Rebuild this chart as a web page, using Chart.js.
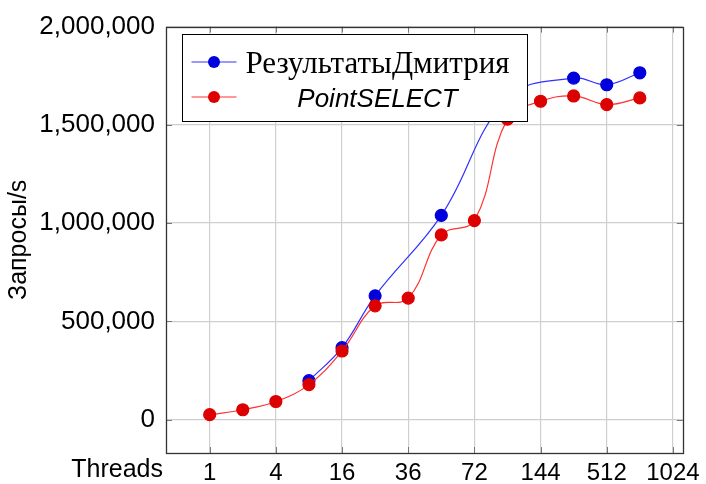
<!DOCTYPE html>
<html>
<head>
<meta charset="utf-8">
<script src="https://cdn.jsdelivr.net/npm/chart.js@4/dist/chart.umd.min.js"></script>
<style>
  html, body { margin: 0; padding: 0; background: #fff; }
  #wrap { width: 706px; height: 484px; }
</style>
</head>
<body>
<div id="wrap"><canvas id="tpsChart" width="706" height="484"></canvas></div>
<script>
// thread counts shown on the x axis, one per unit step
var threadLabels = ['1', '4', '16', '36', '72', '144', '512', '1024'];
var yTickValues = [0, 500000, 1000000, 1500000, 2000000];

// x is measured in label steps (0 = "1", 1 = "4", ...), runs sit on half steps
var dmitryPos = [1.5, 2, 2.5, 3.5, 4.5, 5.5, 6, 6.5];
var dmitryVals = [198000, 366000, 630000, 1039000, 1634000, 1738000, 1704000, 1765000];

var pointSelectPos = [0, 0.5, 1, 1.5, 2, 2.5, 3, 3.5, 4, 4.5, 5, 5.5, 6, 6.5];
var pointSelectVals = [25000, 50000, 92000, 178000, 349000, 579000, 618000, 940000, 1013000, 1529000, 1620000, 1647000, 1603000, 1637000];

function toPoints(xs, ys) {
    var out = [];
    for (var i = 0; i < xs.length; i++) out.push({ x: xs[i], y: ys[i] });
    return out;
}

Chart.defaults.font.family = '"Liberation Sans", Arial, sans-serif';
Chart.defaults.color = '#000';

// box around the plot + little inner tick marks like pgfplots
var framePlugin = {
    id: 'frame',
    afterDatasetsDraw: function (chart) {
        var ctx = chart.ctx;
        var a = chart.chartArea;
        var xs = chart.scales.x, ys = chart.scales.y;
        ctx.save();
        ctx.strokeStyle = '#777';
        ctx.lineWidth = 1;
        ctx.beginPath();
        xs.ticks.forEach(function (t) {
            var px = Math.round(xs.getPixelForValue(t.value)) + 0.5;
            ctx.moveTo(px, a.bottom); ctx.lineTo(px, a.bottom - 6);
            ctx.moveTo(px, a.top); ctx.lineTo(px, a.top + 6);
        });
        ys.ticks.forEach(function (t) {
            var py = Math.round(ys.getPixelForValue(t.value)) + 0.5;
            ctx.moveTo(a.left, py); ctx.lineTo(a.left + 6, py);
            ctx.moveTo(a.right, py); ctx.lineTo(a.right - 6, py);
        });
        ctx.stroke();
        ctx.strokeStyle = '#333';
        ctx.lineWidth = 1.3;
        ctx.strokeRect(Math.round(a.left) + 0.5, Math.round(a.top) + 0.5,
            Math.round(a.right - a.left), Math.round(a.bottom - a.top));

        // "Threads" sits left of the x tick labels
        ctx.fillStyle = '#000';
        ctx.font = '25px "Liberation Sans", Arial, sans-serif';
        ctx.textAlign = 'right';
        ctx.textBaseline = 'top';
        ctx.fillText('Threads', a.left - 3, a.bottom + 5);
        ctx.restore();
    }
};

var boxLegendPlugin = {
    id: 'boxLegend',
    afterDraw: function (chart) {
        var ctx = chart.ctx;
        var left = 182.5, top = 34.5, w = 345, h = 87;
        ctx.save();
        ctx.fillStyle = '#fff';
        ctx.fillRect(left, top, w, h);
        ctx.strokeStyle = '#000';
        ctx.lineWidth = 1;
        ctx.strokeRect(left, top, w, h);

        var textCenter = left + 195;
        chart.data.datasets.forEach(function (ds, i) {
            var rowY = top + 27.5 + i * 35;
            ctx.strokeStyle = ds.borderColor;
            ctx.lineWidth = 1;
            ctx.beginPath();
            ctx.moveTo(left + 9, rowY);
            ctx.lineTo(left + 54, rowY);
            ctx.stroke();
            ctx.fillStyle = ds.pointBackgroundColor;
            ctx.beginPath();
            ctx.arc(left + 31.5, rowY, 6, 0, Math.PI * 2);
            ctx.fill();

            ctx.fillStyle = '#000';
            ctx.font = ds.legendFont;
            ctx.textAlign = 'center';
            ctx.textBaseline = 'alphabetic';
            ctx.fillText(ds.label, textCenter, rowY + ds.legendDrop);
        });
        ctx.restore();
    }
};

var ctx = document.getElementById('tpsChart').getContext('2d');
var chart = new Chart(ctx, {
    type: 'line',
    data: {
        datasets: [
            {
                label: 'РезультатыДмитрия',
                data: toPoints(dmitryPos, dmitryVals),
                borderColor: '#3030ff',
                backgroundColor: '#0000dd',
                pointBackgroundColor: '#0000dd',
                pointBorderColor: '#0000dd',
                borderWidth: 1.2,
                pointRadius: 6,
                tension: 0.4,
                order: 1,
                legendFont: '31px "Liberation Serif", "DejaVu Serif", serif',
                legendDrop: 11
            },
            {
                label: 'PointSELECT',
                data: toPoints(pointSelectPos, pointSelectVals),
                borderColor: '#ff3030',
                backgroundColor: '#dd0000',
                pointBackgroundColor: '#dd0000',
                pointBorderColor: '#dd0000',
                borderWidth: 1.2,
                pointRadius: 6,
                tension: 0.4,
                order: 0,
                legendFont: 'italic 26px "Liberation Sans", Arial, sans-serif',
                legendDrop: 10
            }
        ]
    },
    options: {
        responsive: false,
        animation: false,
        layout: { padding: { top: 22, right: 21, left: 0, bottom: 0 } },
        plugins: {
            legend: { display: false },
            tooltip: { enabled: false }
        },
        scales: {
            x: {
                type: 'linear',
                min: -0.66,
                max: 7.15,
                afterBuildTicks: function (scale) {
                    scale.ticks = threadLabels.map(function (_, i) { return { value: i }; });
                },
                afterFit: function (scale) { scale.height = 31; },
                ticks: {
                    autoSkip: false,
                    maxRotation: 0,
                    padding: 6,
                    font: { size: 24 },
                    callback: function (v) { return threadLabels[v]; }
                },
                grid: { color: '#cfcfcf', lineWidth: 1.2, drawTicks: false },
                border: { display: false }
            },
            y: {
                min: -170000,
                max: 2000000,
                afterBuildTicks: function (scale) {
                    scale.ticks = yTickValues.map(function (v) { return { value: v }; });
                },
                afterFit: function (scale) { scale.width = 166; },
                ticks: {
                    padding: 11,
                    font: { size: 26 },
                    callback: function (v) { return v.toLocaleString('en-US'); }
                },
                title: {
                    display: true,
                    text: 'Запросы/s',
                    font: { size: 25 },
                    padding: { top: 4 }
                },
                grid: { color: '#cfcfcf', lineWidth: 1.2, drawTicks: false },
                border: { display: false }
            }
        }
    },
    plugins: [framePlugin, boxLegendPlugin]
});
</script>
</body>
</html>
